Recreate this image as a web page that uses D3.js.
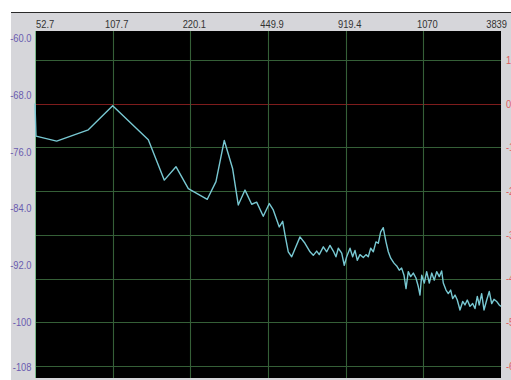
<!DOCTYPE html>
<html><head><meta charset="utf-8">
<script src="https://cdn.jsdelivr.net/npm/d3@7/dist/d3.min.js"></script>
<style>
html,body{margin:0;padding:0;background:#fff;overflow:hidden}
text{font-family:"Liberation Sans Narrow","Liberation Sans",Arial,sans-serif;font-size:11px}
</style></head>
<body>
<svg id="c" width="511" height="380"></svg>
<script>
// Frequency axis tick labels (one per grid division)
const freqLabels = ["52.7","107.7","220.1","449.9","919.4","1070","3839"];
// Left axis (dB) tick labels
const leftTicks = [-60, -68, -76, -84, -92, -100, -108];
const leftTickText = ["-60.0","-68.0","-76.0","-84.0","-92.0","-100","-108"];
// Right axis ticks (red, reference level at 0)
const rightTicks = [10, 0, -10, -20, -30, -40, -50, -60];
// Spectrum trace: position along frequency axis (in grid divisions) and level (dB)
const traceX = [0.000,0.013,0.279,0.686,1.000,1.459,1.665,1.815,1.974,2.218,2.330,2.437,2.545,2.617,2.704,2.790,2.854,2.939,3.017,3.068,
3.145,3.189,3.219,3.261,3.305,3.412,3.476,3.541,3.583,3.627,3.660,3.712,3.756,3.798,3.841,3.875,3.905,3.949,3.982,4.013,
4.056,4.090,4.120,4.150,4.184,4.227,4.262,4.291,4.322,4.356,4.390,4.420,4.451,4.484,4.519,4.549,4.580,4.622,4.657,4.690,
4.721,4.751,4.777,4.806,4.837,4.871,4.905,4.935,4.957,4.979,5.012,5.043,5.077,5.108,5.141,5.172,5.205,5.236,5.257,5.292,
5.321,5.352,5.378,5.408,5.437,5.472,5.507,5.536,5.566,5.601,5.635,5.665,5.695,5.720,5.751,5.781,5.816,5.849,5.880,5.910,
5.944,5.978,6.000];
const traceDb = [-69.2,-73.8,-74.5,-72.9,-69.5,-74.3,-80.0,-78.1,-81.2,-82.7,-80.2,-74.4,-78.4,-83.5,-81.4,-83.4,-83.1,-85.1,-83.3,-84.2,
-86.6,-85.8,-87.7,-90.1,-90.8,-88.0,-88.9,-90.1,-90.6,-90.0,-90.5,-89.4,-90.1,-89.2,-90.0,-90.8,-89.6,-90.3,-92.0,-90.8,
-89.6,-90.8,-89.9,-91.3,-90.5,-90.9,-90.5,-90.8,-89.6,-90.1,-88.7,-88.9,-87.3,-86.7,-88.7,-90.1,-91.0,-91.7,-92.1,-92.7,
-92.4,-93.4,-95.3,-92.9,-93.6,-93.1,-93.8,-95.0,-96.2,-93.4,-94.5,-92.9,-94.5,-93.1,-94.1,-92.9,-93.6,-92.8,-94.5,-95.5,
-96.0,-95.5,-96.7,-96.2,-96.9,-98.3,-97.1,-97.6,-96.9,-97.8,-97.4,-98.1,-96.4,-97.6,-96.0,-98.3,-96.9,-95.7,-97.4,-96.8,
-97.1,-97.6,-97.8];

const svg = d3.select("#c");
const W = 511, H = 380;
const plot = {l:35, r:501, t:31, b:378};

// frame backgrounds
svg.append("rect").attr("x",11).attr("y",12).attr("width",W-11).attr("height",H-12).attr("fill","#d6d6da");
svg.append("line").attr("x1",11).attr("x2",W).attr("y1",12.5).attr("y2",12.5).attr("stroke","#2a2a2a").attr("stroke-width",1.2);
svg.append("rect").attr("x",plot.l).attr("y",plot.t).attr("width",plot.r-plot.l).attr("height",plot.b-plot.t).attr("fill","#000");

const x = d3.scaleLinear().domain([0, freqLabels.length-1]).range([plot.l, plot.r]);
const yL = d3.scaleLinear().domain([-60,-100]).range([38.3, 322]);
const yR = d3.scaleLinear().domain([10,-60]).range([60, 366]);

const g = svg.append("g");
// horizontal grid lines (right axis ticks)
g.selectAll("line.h").data(rightTicks).join("line")
  .attr("x1",plot.l).attr("x2",plot.r)
  .attr("y1",d=>Math.round(yR(d))+0.5).attr("y2",d=>Math.round(yR(d))+0.5)
  .attr("stroke",d=>d===0?"#7e1c1c":"#355f37").attr("stroke-width",1.1);
// vertical grid lines
g.selectAll("line.v").data(d3.range(1,freqLabels.length-1)).join("line")
  .attr("x1",d=>Math.round(x(d))+0.5).attr("x2",d=>Math.round(x(d))+0.5)
  .attr("y1",plot.t).attr("y2",plot.b)
  .attr("stroke","#355f37").attr("stroke-width",1.1);
// left border
svg.append("line").attr("x1",plot.l+0.5).attr("x2",plot.l+0.5).attr("y1",plot.t).attr("y2",plot.b)
  .attr("stroke","#79b889").attr("stroke-width",1);

// trace
const pts = traceX.map((v,i)=>[v, traceDb[i]]);
const line = d3.line().x(d=>x(d[0])).y(d=>yL(d[1]));
svg.append("path").datum(pts).attr("d",line).attr("fill","none")
  .attr("stroke","#78c8d2").attr("stroke-width",1.4).attr("stroke-linejoin","round");

// top labels
svg.selectAll("text.top").data(freqLabels).join("text")
  .attr("transform",(d,i)=>{
     let px = x(i) + 4;
     if (i===0) px = plot.l + 1;
     if (i===freqLabels.length-1) px = plot.r + 6;
     return `translate(${px},28) scale(0.85,1)`;
  })
  .attr("text-anchor",(d,i)=> i===0 ? "start" : (i===freqLabels.length-1 ? "end" : "middle"))
  .attr("fill","#333").text(d=>d);

// left labels
svg.selectAll("text.left").data(leftTicks).join("text")
  .attr("transform",d=>`translate(31.5,${Math.min(yL(d), plot.b-11)}) scale(0.85,1)`)
  .attr("dy","0.35em").attr("text-anchor","end")
  .attr("fill","#6a5cb0").text((d,i)=>leftTickText[i]);

// right labels (cut by window edge, as in the reference)
svg.selectAll("text.right").data(rightTicks).join("text")
  .attr("transform",d=>`translate(506,${yR(d)}) scale(0.85,1)`)
  .attr("dy","0.35em").attr("text-anchor","start")
  .attr("fill","#e06060").text(d=>d);
</script>
</body></html>
